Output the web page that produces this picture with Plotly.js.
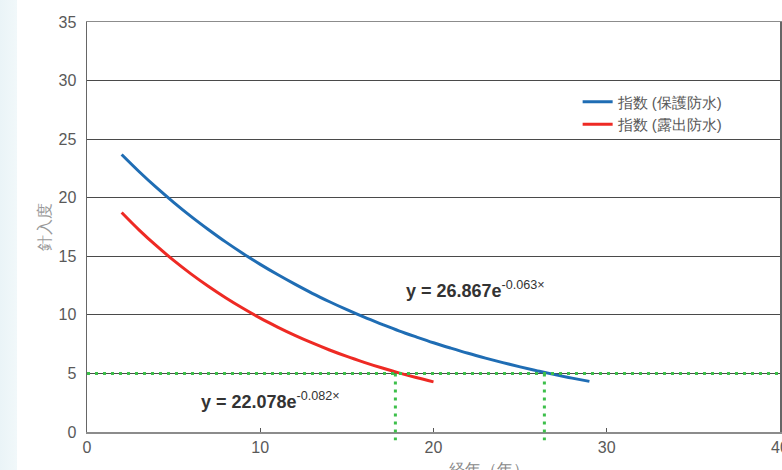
<!DOCTYPE html>
<html>
<head>
<meta charset="utf-8">
<script src="https://cdn.plot.ly/plotly-3.0.1.min.js"></script>
<style>
html,body{margin:0;padding:0;width:782px;height:470px;overflow:hidden;
background:linear-gradient(to right,#eaf4f7 0px,#f1f8fa 17px,#ffffff 17px);}
#chart{width:782px;height:470px;}
</style>
</head>
<body>
<div id="chart"></div>
<script>
// Data
const yearsProtected = [2,3,4,5,6,7,8,9,10,11,12,13,14,15,16,17,18,19,20,21,22,23,24,25,26,27,28,29];
const indexProtected = [23.69,22.24,20.88,19.61,18.41,17.29,16.23,15.24,14.31,13.44,12.62,11.84,11.12,10.44,9.80,9.21,8.64,8.12,7.62,7.16,6.72,6.31,5.92,5.56,5.22,4.90,4.60,4.32];
const yearsExposed = [2,3,4,5,6,7,8,9,10,11,12,13,14,15,16,17,18,19,20];
const indexExposed = [18.74,17.26,15.90,14.65,13.50,12.44,11.46,10.56,9.72,8.96,8.25,7.60,7.00,6.45,5.95,5.48,5.05,4.65,4.28];
const seriesNames = ['指数 (保護防水)', '指数 (露出防水)'];
const thresholdValue = 5;
const thresholdYears = [17.8, 26.4];
const thresholdLabels = ['18年', '25年'];
const equations = ['<b>y = 26.867e</b><sup>-0.063×</sup>', '<b>y = 22.078e</b><sup>-0.082×</sup>'];
const xTicks = [0,10,20,30,40];
const yTicks = [0,5,10,15,20,25,30,35];

const font = '"Liberation Sans", Arial, sans-serif';
const traces = [
  {x: yearsProtected, y: indexProtected, name: seriesNames[0], mode: 'lines',
   line: {color: '#1f6db4', width: 3, shape: 'spline'}},
  {x: yearsExposed, y: indexExposed, name: seriesNames[1], mode: 'lines',
   line: {color: '#ee2a24', width: 3, shape: 'spline'}}
];

const green = '#3cbf4a';
const shapes = [
  {type: 'line', xref: 'x', yref: 'y', x0: 0, x1: 40, y0: thresholdValue, y1: thresholdValue,
   line: {color: green, width: 3, dash: '3px,5px'}}
];
thresholdYears.forEach(function(v){
  shapes.push({type: 'line', xref: 'x', yref: 'paper', x0: v, x1: v, y0: thresholdValue/35, y1: -0.02,
    line: {color: green, width: 3, dash: '3px,5px'}});
});

const annotations = [
  {text: equations[0], xref: 'x', yref: 'y', x: 22.4, y: 12.2, showarrow: false,
   font: {family: font, size: 18, color: '#333'}},
  {text: equations[1], xref: 'x', yref: 'y', x: 10.6, y: 2.7, showarrow: false,
   font: {family: font, size: 18, color: '#333'}},
  {text: '経年（年）', xref: 'paper', yref: 'paper', x: 0.58, y: -0.065, yanchor: 'top', showarrow: false,
   font: {family: font, size: 16, color: '#888'}}
];
thresholdYears.forEach(function(v, i){
  annotations.push({text: thresholdLabels[i], xref: 'x', yref: 'y', x: v, y: -0.95, showarrow: false,
    font: {family: font, size: 16, color: '#f0392b'}});
});

const layout = {
  width: 782, height: 470,
  margin: {l: 87, r: 2, t: 22, b: 38},
  paper_bgcolor: 'rgba(0,0,0,0)',
  plot_bgcolor: '#ffffff',
  showlegend: true,
  legend: {x: 0.708, y: 0.845, xanchor: 'left', yanchor: 'top', bgcolor: 'rgba(0,0,0,0)',
    font: {family: font, size: 15, color: '#595959'}, tracegroupgap: 0},
  xaxis: {range: [0, 40], tickvals: xTicks, showgrid: false, zeroline: false,
    showline: true, linecolor: '#8c8c8c', linewidth: 1.5, mirror: true,
    ticks: 'inside', ticklen: 4, tickcolor: '#555', ticklabeloverflow: 'allow',
    tickfont: {family: font, size: 16, color: '#595959'}},
  yaxis: {range: [0, 35], tickvals: yTicks, showgrid: true, gridcolor: '#4a4a4a', gridwidth: 1,
    zeroline: false, showline: true, linecolor: '#666', linewidth: 1.5, mirror: true,
    ticks: '', ticklabelstandoff: 6,
    tickfont: {family: font, size: 16, color: '#595959'},
    title: {text: '針入度', standoff: 4, font: {family: font, size: 16, color: '#999'}}},
  shapes: shapes,
  annotations: annotations
};

Plotly.newPlot('chart', traces, layout, {staticPlot: true});
</script>
</body>
</html>
